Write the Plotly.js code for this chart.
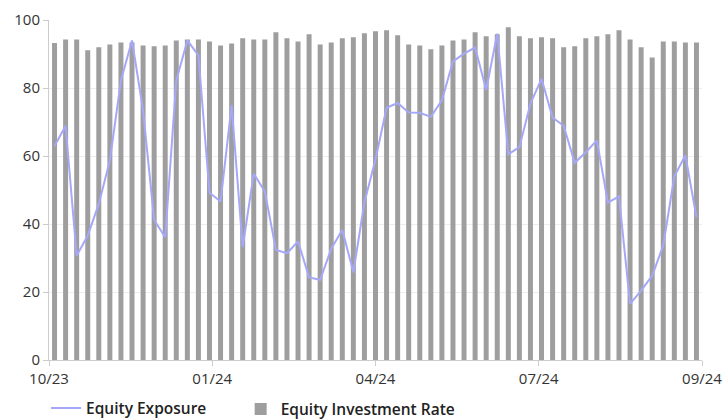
<!DOCTYPE html>
<html>
<head>
<meta charset="utf-8">
<script src="https://cdn.plot.ly/plotly-3.0.1.min.js"></script>
<style>
  html, body { margin: 0; padding: 0; background: #ffffff; }
  #chart { width: 726px; height: 419px; }
</style>
</head>
<body>
<div id="chart"></div>
<script>
// ---- Data ----
const seriesLineName = 'Equity Exposure';
const seriesBarName = 'Equity Investment Rate';

const investmentRate = [
  93.2, 94.3, 94.3, 91.1, 92.0, 92.8, 93.4, 93.4, 92.5, 92.3,
  92.5, 94.0, 94.3, 94.3, 93.7, 92.5, 93.1, 94.6, 94.3, 94.3,
  96.4, 94.6, 93.7, 95.8, 92.8, 93.4, 94.6, 94.9, 96.1, 96.7,
  97.0, 95.5, 92.8, 92.5, 91.4, 92.5, 94.0, 94.3, 96.4, 95.2,
  95.8, 97.9, 95.2, 94.6, 94.9, 94.6, 92.0, 92.3, 94.6, 95.2,
  95.8, 97.0, 94.3, 92.0, 89.0, 93.7, 93.7, 93.4, 93.4
];

const equityExposure = [
  62.9, 68.9, 30.7, 36.6, 45.9, 58.7, 82.2, 94.0, 73.4, 41.2,
  36.1, 82.2, 94.0, 89.6, 49.2, 46.6, 74.9, 33.2, 54.8, 49.6,
  32.4, 31.4, 34.9, 24.3, 23.6, 32.7, 38.3, 25.8, 46.4, 59.0,
  74.2, 75.6, 72.8, 72.7, 71.5, 76.4, 87.8, 90.1, 91.9, 79.5,
  96.0, 60.5, 62.6, 75.4, 82.7, 71.3, 68.9, 58.0, 61.1, 64.6,
  46.3, 48.1, 16.5, 20.4, 24.8, 33.7, 54.0, 60.2, 42.0
];

const tickLabels = ['10/23', '01/24', '04/24', '07/24', '09/24'];

// ---- Build ----
const idx = investmentRate.map((_, i) => i);
const xMin = -0.5, xMax = investmentRate.length - 0.5;
const tickVals = tickLabels.map((_, i) => xMin + (xMax - xMin) * i / (tickLabels.length - 1));

const font = 'Open Sans, Noto Sans, DejaVu Sans, sans-serif';
const legendFont = { family: font, size: 15.5, color: '#222222', weight: 600 };

const traces = [
  {
    type: 'bar',
    name: seriesBarName,
    x: idx,
    y: investmentRate,
    marker: { color: '#9e9e9e', line: { width: 0 } },
    legend: 'legend2',
    hoverinfo: 'y'
  },
  {
    type: 'scatter',
    mode: 'lines',
    name: seriesLineName,
    x: idx,
    y: equityExposure,
    line: { color: '#a5a8f8', width: 2 },
    legend: 'legend',
    hoverinfo: 'y'
  }
];

const layout = {
  width: 726,
  height: 419,
  margin: { l: 49, r: 24, t: 20, b: 59 },
  paper_bgcolor: '#ffffff',
  plot_bgcolor: '#ffffff',
  font: { family: font, size: 15, color: '#333333' },
  bargap: 0.55,
  showlegend: true,
  legend: {
    orientation: 'h',
    xref: 'container',
    yref: 'container',
    x: 0.0634,
    xanchor: 'left',
    y: 0.025,
    yanchor: 'middle',
    font: legendFont,
    itemwidth: 30,
    bgcolor: 'rgba(0,0,0,0)'
  },
  legend2: {
    orientation: 'h',
    xref: 'container',
    yref: 'container',
    x: 0.3315,
    xanchor: 'left',
    y: 0.0227,
    yanchor: 'middle',
    font: legendFont,
    itemwidth: 30,
    bgcolor: 'rgba(0,0,0,0)'
  },
  xaxis: {
    type: 'linear',
    range: [xMin, xMax],
    tickmode: 'array',
    tickvals: tickVals,
    ticktext: tickLabels,
    ticks: 'outside',
    ticklen: 5,
    tickcolor: '#cccccc',
    showline: true,
    linecolor: '#cccccc',
    linewidth: 1,
    showgrid: false,
    zeroline: false,
    tickfont: { family: font, size: 15, color: '#333333' }
  },
  yaxis: {
    range: [0, 100],
    tickvals: [0, 20, 40, 60, 80, 100],
    ticks: 'outside',
    ticklen: 5,
    tickcolor: '#cccccc',
    showline: true,
    linecolor: '#cccccc',
    linewidth: 1,
    showgrid: true,
    gridcolor: '#eeeeee',
    gridwidth: 1,
    zeroline: false,
    tickfont: { family: font, size: 15, color: '#333333' }
  }
};

Plotly.newPlot('chart', traces, layout, { displayModeBar: false, staticPlot: true });
</script>
</body>
</html>
